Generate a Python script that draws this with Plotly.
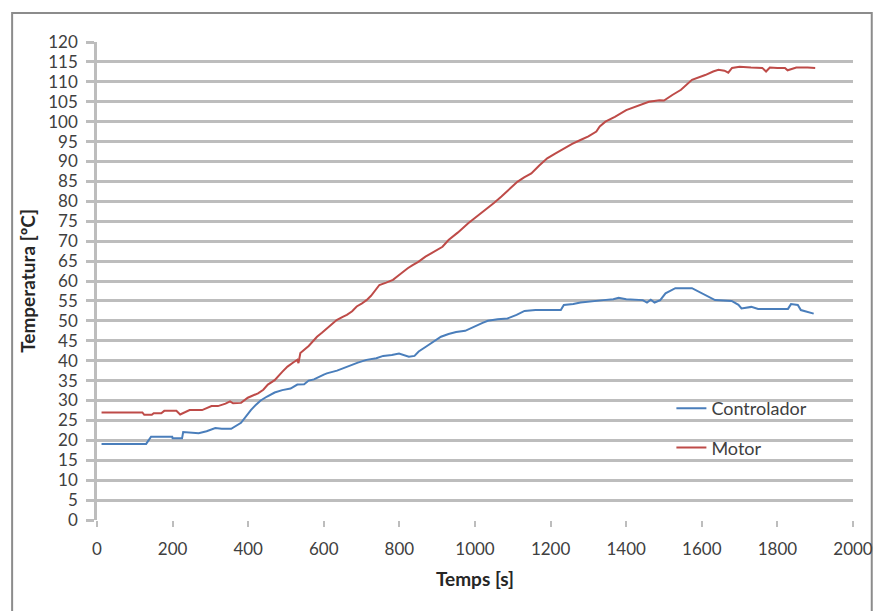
import plotly.graph_objects as go

# Controlador (blue)
ctrl_t = [12, 60, 100, 130, 143, 170, 199, 200, 225, 228, 250, 260, 269, 290, 313, 330, 355,
          381, 395, 407, 420, 433, 450, 470, 490, 512, 530, 548, 560, 574, 600, 608, 635, 661,
          690, 713, 739, 757, 780, 799, 810, 825, 840, 851, 870, 896, 910, 930, 950, 974, 1000,
          1020, 1034, 1060, 1086, 1110, 1131, 1160, 1200, 1227, 1235, 1260, 1279, 1310, 1340,
          1366, 1380, 1400, 1420, 1444, 1455, 1465, 1475, 1490, 1504, 1530, 1574, 1593, 1609,
          1635, 1679, 1697, 1705, 1731, 1749, 1790, 1828, 1836, 1854, 1862, 1888, 1896]
ctrl_v = [19.1, 19.1, 19.1, 19.1, 20.9, 20.9, 20.9, 20.5, 20.5, 22.1, 22.0, 21.8, 21.8, 22.3,
          23.1, 22.9, 22.9, 24.4, 26.2, 27.6, 28.9, 30.0, 31.0, 32.0, 32.6, 33.0, 34.0, 34.1,
          35.0, 35.3, 36.5, 36.8, 37.5, 38.5, 39.5, 40.2, 40.6, 41.2, 41.4, 41.8, 41.5, 41.0,
          41.2, 42.3, 43.5, 45.2, 46.0, 46.7, 47.2, 47.5, 48.7, 49.5, 50.0, 50.4, 50.6, 51.5,
          52.5, 52.7, 52.7, 52.7, 54.0, 54.2, 54.6, 55.0, 55.2, 55.4, 55.8, 55.4, 55.3, 55.2,
          54.6, 55.3, 54.6, 55.2, 56.9, 58.2, 58.2, 57.3, 56.5, 55.2, 55.0, 54.0, 53.1, 53.5,
          53.0, 53.0, 53.0, 54.2, 54.0, 52.7, 52.0, 51.8]

# Motor (red)
motor_t = [12, 30, 60, 90, 120, 125, 145, 150, 170, 178, 210, 220, 235, 245, 278, 290, 303,
           320, 340, 352, 360, 381, 399, 426, 440, 452, 470, 490, 504, 520, 530, 533, 538, 560,
           582, 595, 608, 620, 634, 650, 661, 675, 687, 700, 713, 725, 735, 747, 765, 783, 795,
           809, 822, 835, 850, 869, 890, 914, 930, 955, 982, 1005, 1034, 1050, 1070, 1090, 1112,
           1130, 1149, 1170, 1191, 1212, 1235, 1257, 1279, 1300, 1321, 1330, 1345, 1370, 1400,
           1430, 1460, 1488, 1500, 1522, 1545, 1574, 1590, 1609, 1630, 1644, 1660, 1670, 1680,
           1700, 1730, 1760, 1770, 1780, 1800, 1820, 1827, 1840, 1850, 1880, 1900]
motor_v = [27.0, 27.0, 27.0, 27.0, 27.0, 26.4, 26.4, 26.8, 26.8, 27.4, 27.4, 26.5, 27.2, 27.6,
           27.6, 28.0, 28.6, 28.6, 29.2, 29.8, 29.3, 29.4, 30.7, 31.8, 32.7, 34.0, 35.1, 37.2,
           38.5, 39.6, 40.2, 39.4, 41.9, 43.7, 46.0, 47.0, 48.1, 48.9, 50.2, 51.0, 51.5, 52.4,
           53.6, 54.3, 55.2, 56.3, 57.5, 59.0, 59.6, 60.3, 61.2, 62.3, 63.2, 64.0, 64.8, 66.1,
           67.2, 68.6, 70.3, 72.2, 74.5, 76.2, 78.2, 79.6, 81.2, 83.0, 84.9, 86.0, 87.0, 89.0,
           90.8, 92.0, 93.3, 94.4, 95.4, 96.3, 97.5, 98.8, 100.0, 101.2, 102.9, 104.0, 105.0,
           105.4, 105.3, 106.7, 108.0, 110.5, 111.0, 111.7, 112.6, 113.0, 112.8, 112.3, 113.5,
           113.8, 113.6, 113.5, 112.6, 113.6, 113.5, 113.5, 112.9, 113.2, 113.6, 113.6, 113.5]

x_ticks = [0, 200, 400, 600, 800, 1000, 1200, 1400, 1600, 1800, 2000]
y_ticks = list(range(0, 121, 5))

FONT = "Lato, Liberation Sans, sans-serif"
GRID = "#bdbdbd"

fig = go.Figure()
fig.add_trace(go.Scatter(x=ctrl_t, y=ctrl_v, mode="lines", name="Controlador",
                         legendgroup="a", line=dict(color="#4a7ebb", width=2)))
fig.add_trace(go.Scatter(x=motor_t, y=motor_v, mode="lines", name="Motor",
                         legendgroup="b", line=dict(color="#be4b48", width=2)))

L, R, T, B = 97, 22, 42, 91
W, H = 885, 611
pw, ph = W - L - R, H - T - B

def px2paper_x(px):
    return (px - L) / pw

def py2paper_y(py):
    return (H - B - py) / ph

fig.add_shape(type="rect", xref="paper", yref="paper",
              x0=px2paper_x(11), x1=px2paper_x(882), y0=py2paper_y(640), y1=py2paper_y(13),
              line=dict(color="#8c8c8c", width=2), fillcolor="rgba(0,0,0,0)", layer="below")

fig.update_layout(
    width=W, height=H,
    margin=dict(l=L, r=R, t=T, b=B),
    paper_bgcolor="white", plot_bgcolor="white",
    font=dict(family=FONT, size=17, color="#404040"),
    showlegend=True,
    legend=dict(x=px2paper_x(679), y=py2paper_y(390), xanchor="left", yanchor="top",
                bgcolor="rgba(0,0,0,0)", traceorder="grouped", tracegroupgap=13,
                font=dict(family=FONT, size=18, color="#404040")),
    xaxis=dict(range=[0, 2000], tickvals=x_ticks, ticktext=[str(v) for v in x_ticks],
               showgrid=False, zeroline=False, showline=False,
               ticks="outside", ticklen=6, tickwidth=2, tickcolor=GRID,
               ticklabelstandoff=8, tickfont=dict(size=17),
               title=dict(text="<b>Temps [s]</b>", font=dict(size=19, color="#262626"), standoff=14)),
    yaxis=dict(range=[0, 120], tickvals=y_ticks, ticktext=[str(v) for v in y_ticks],
               showgrid=True, gridcolor=GRID, gridwidth=2.5, zeroline=False,
               showline=True, linecolor=GRID, linewidth=2.5,
               ticks="outside", ticklen=8, tickwidth=2.5, tickcolor=GRID,
               ticklabelstandoff=5, tickfont=dict(size=17),
               title=dict(text="<b>Temperatura [ºC]</b>", font=dict(size=19, color="#262626"), standoff=8)),
)

fig.write_html("out.html")
